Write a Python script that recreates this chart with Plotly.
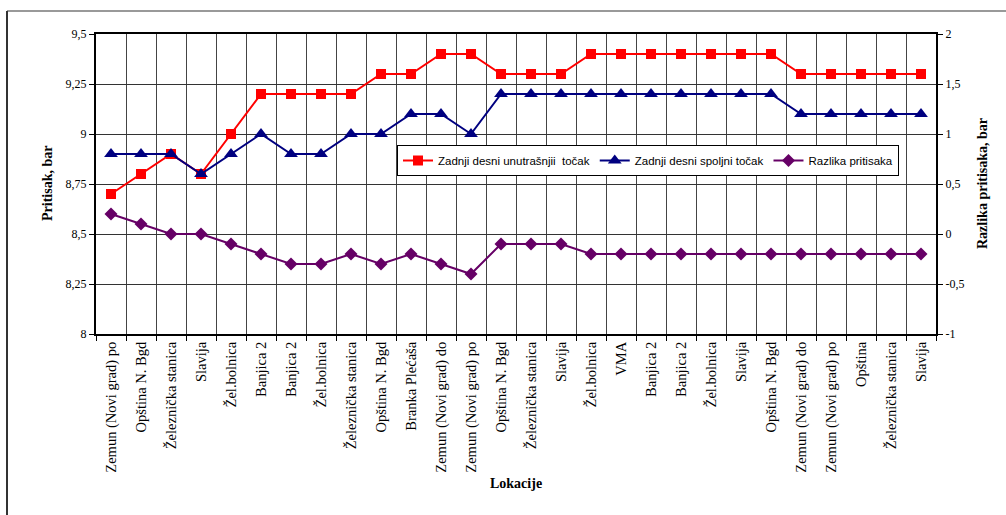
import plotly.graph_objects as go

categories = [
    "Zemun (Novi grad) po", "Opština N. Bgd", "Železnička stanica", "Slavija",
    "Žel.bolnica", "Banjica 2", "Banjica 2", "Žel.bolnica", "Železnička stanica",
    "Opština N. Bgd", "Branka Plećaša", "Zemun (Novi grad) do", "Zemun (Novi grad) po",
    "Opština N. Bgd", "Železnička stanica", "Slavija", "Žel.bolnica", "VMA",
    "Banjica 2", "Banjica 2", "Žel.bolnica", "Slavija", "Opština N. Bgd",
    "Zemun (Novi grad) do", "Zemun (Novi grad) po", "Opština", "Železnička stanica", "Slavija",
]
inner = [8.7, 8.8, 8.9, 8.8, 9.0, 9.2, 9.2, 9.2, 9.2, 9.3, 9.3, 9.4, 9.4, 9.3,
         9.3, 9.3, 9.4, 9.4, 9.4, 9.4, 9.4, 9.4, 9.4, 9.3, 9.3, 9.3, 9.3, 9.3]
outer = [8.9, 8.9, 8.9, 8.8, 8.9, 9.0, 8.9, 8.9, 9.0, 9.0, 9.1, 9.1, 9.0, 9.2,
         9.2, 9.2, 9.2, 9.2, 9.2, 9.2, 9.2, 9.2, 9.2, 9.1, 9.1, 9.1, 9.1, 9.1]
diff = [0.2, 0.1, 0.0, 0.0, -0.1, -0.2, -0.3, -0.3, -0.2, -0.3, -0.2, -0.3, -0.4, -0.1,
        -0.1, -0.1, -0.2, -0.2, -0.2, -0.2, -0.2, -0.2, -0.2, -0.2, -0.2, -0.2, -0.2, -0.2]
left_ticks = [8, 8.25, 8.5, 8.75, 9, 9.25, 9.5]
left_labels = ["8", "8,25", "8,5", "8,75", "9", "9,25", "9,5"]
right_ticks = [-1, -0.5, 0, 0.5, 1, 1.5, 2]
right_labels = ["-1", "-0,5", "0", "0,5", "1", "1,5", "2"]

xs = list(range(len(categories)))

W, H = 1006, 515
L, R, T, B = 96, 70, 34, 181
pw, ph = W - L - R, H - T - B

def px(x):
    return (x - L) / pw

def py(y):
    return (H - B - y) / ph

fig = go.Figure()
fig.add_trace(go.Scatter(x=xs, y=inner, name="Zadnji desni unutrašnjii  točak",
                         mode="lines+markers", line=dict(color="#FF0000", width=2),
                         marker=dict(symbol="square", size=10, color="#FF0000")))
fig.add_trace(go.Scatter(x=xs, y=outer, name="Zadnji desni spoljni točak",
                         mode="lines+markers", line=dict(color="#000080", width=2),
                         marker=dict(symbol="triangle-up", size=12, color="#000080")))
fig.add_trace(go.Scatter(x=xs, y=diff, name="Razlika pritisaka", yaxis="y2",
                         mode="lines+markers", line=dict(color="#660066", width=2),
                         marker=dict(symbol="diamond", size=10, color="#660066")))

serif = "Liberation Serif"
fig.update_layout(
    width=W, height=H,
    margin=dict(l=L, r=R, t=T, b=B),
    paper_bgcolor="white", plot_bgcolor="white",
    showlegend=True,
    legend=dict(orientation="h", x=px(397), y=py(145), xanchor="left", yanchor="top",
                bgcolor="white", bordercolor="black", borderwidth=1,
                font=dict(family="Liberation Sans", size=11.5, color="black"),
                itemwidth=30, tracegroupgap=0),
    xaxis=dict(range=[-0.5, len(categories) - 0.5], tickmode="array", tickvals=xs,
               ticktext=categories, tickangle=-90, ticks="", showgrid=False,
               tickfont=dict(family=serif, size=14.5, color="black"),
               showline=True, linecolor="black", linewidth=2, mirror=True, zeroline=False,
               minor=dict(tickmode="array", tickvals=[i - 0.5 for i in range(len(categories) + 1)],
                          showgrid=True, gridcolor="#444444", gridwidth=1,
                          ticks="outside", ticklen=5, tickcolor="black")),
    yaxis=dict(range=[8, 9.5], tickmode="array", tickvals=left_ticks, ticktext=left_labels,
               showgrid=True, gridcolor="#333333", gridwidth=1, zeroline=False,
               ticks="outside", ticklen=5, tickcolor="black",
               tickfont=dict(family=serif, size=12, color="black"),
               showline=True, linecolor="black", linewidth=2, mirror=True),
    yaxis2=dict(range=[-1, 2], tickmode="array", tickvals=right_ticks, ticktext=right_labels,
                overlaying="y", side="right", showgrid=False, zeroline=False,
                ticks="outside", ticklen=5, tickcolor="black",
                tickfont=dict(family=serif, size=12, color="black"),
                showline=True, linecolor="black", linewidth=2),
    annotations=[
        dict(text="<b>Pritisak, bar</b>", textangle=-90, xref="paper", yref="paper",
             x=px(47), y=py(184), showarrow=False, xanchor="center", yanchor="middle",
             font=dict(family=serif, size=14, color="black")),
        dict(text="<b>Razlika pritisaka, bar</b>", textangle=-90, xref="paper", yref="paper",
             x=px(982), y=py(184), showarrow=False, xanchor="center", yanchor="middle",
             font=dict(family=serif, size=14, color="black")),
        dict(text="<b>Lokacije</b>", xref="paper", yref="paper",
             x=px(516), y=py(483), showarrow=False, xanchor="center", yanchor="middle",
             font=dict(family=serif, size=14, color="black")),
    ],
    shapes=[
        dict(type="line", xref="paper", yref="paper", x0=px(7), x1=px(1006), y0=py(11), y1=py(11),
             line=dict(color="#999999", width=2)),
        dict(type="line", xref="paper", yref="paper", x0=px(7), x1=px(7), y0=py(11), y1=py(515),
             line=dict(color="#333333", width=2)),
    ],
)

fig.write_html("out.html", config={"displayModeBar": False},
               post_script="document.body.style.margin='0';")
